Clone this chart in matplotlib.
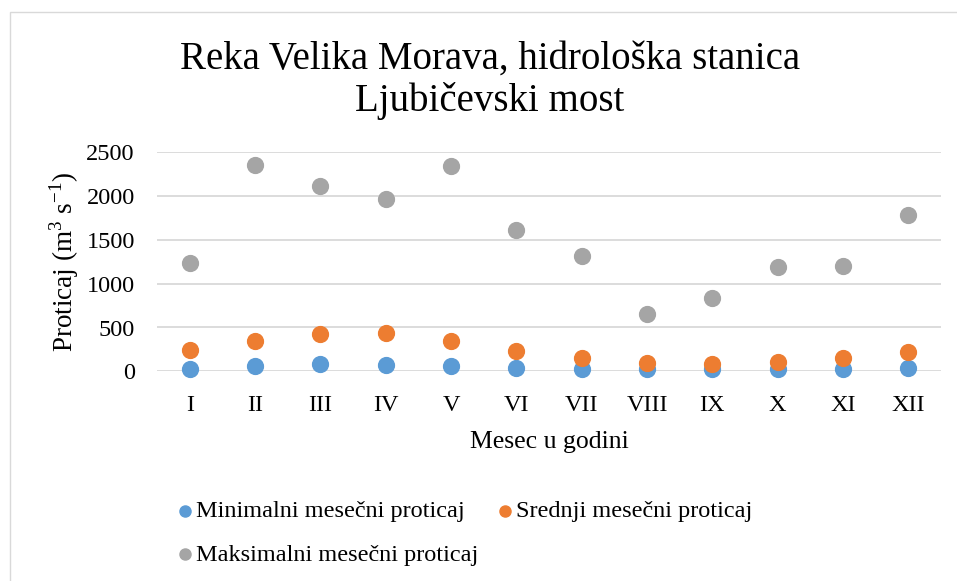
import matplotlib.pyplot as plt
from matplotlib.patches import Rectangle

plt.rcParams['font.family'] = ['Liberation Serif', 'DejaVu Serif']
plt.rcParams['mathtext.fontset'] = 'custom'
plt.rcParams['mathtext.rm'] = 'Liberation Serif'

# months (roman numerals) and monthly discharge, m3/s
months = ['I', 'II', 'III', 'IV', 'V', 'VI', 'VII', 'VIII', 'IX', 'X', 'XI', 'XII']
q_min = [30, 64, 87, 75, 60, 41, 30, 23, 23, 26, 26, 38]
q_mean = [247, 346, 429, 434, 346, 235, 148, 98, 83, 110, 155, 217]
q_max = [1233, 2355, 2115, 1963, 2343, 1613, 1316, 658, 840, 1194, 1205, 1784]

c_min = '#5B9BD5'
c_mean = '#ED7D31'
c_max = '#A5A5A5'

fig = plt.figure(figsize=(9.57, 5.81), dpi=100)
fig.patches.append(Rectangle((10 / 957, -0.1), 1.1, 1 - 12 / 581 + 0.1,
                             transform=fig.transFigure, fill=False,
                             edgecolor='#D9D9D9', linewidth=1))

ax = fig.add_axes([157 / 957, 209.7 / 581, 784 / 957, 219 / 581])
x = range(len(months))
s = 130
h_min = ax.scatter(x, q_min, s=s, color=c_min, zorder=3, clip_on=False,
                   label='Minimalni mesečni proticaj')
h_mean = ax.scatter(x, q_mean, s=s, color=c_mean, zorder=4, clip_on=False,
                    label='Srednji mesečni proticaj')
h_max = ax.scatter(x, q_max, s=s, color=c_max, zorder=5, clip_on=False,
                   label='Maksimalni mesečni proticaj')

ax.set_xlim(-0.5, 11.5)
ax.set_ylim(0, 2500)
ax.set_yticks(range(0, 2501, 500))
ax.set_xticks(list(x))
ax.set_xticklabels(months)
ax.yaxis.grid(True, color='#D9D9D9', linewidth=1.3)
ax.set_axisbelow(True)
for sp in ax.spines.values():
    sp.set_visible(False)
ax.tick_params(length=0, labelsize=17.5, colors='black')
ax.tick_params(axis='y', pad=16)
ax.tick_params(axis='x', pad=17)

ax.set_xlabel('Mesec u godini', fontsize=18.5, labelpad=11)
ax.set_ylabel('Proticaj (m$^{3}$ s$^{-1}$)', fontsize=19.5, labelpad=4)

fig.text(0.512, 1 - 80 / 581, 'Reka Velika Morava, hidrološka stanica\nLjubičevski most',
         ha='center', va='center', fontsize=28, linespacing=1.14)

fig.legend(handles=[h_min, h_max, h_mean], ncol=2, loc='upper left',
           bbox_to_anchor=(153 / 957, 1 - 478 / 581), frameon=False,
           fontsize=17.5, markerscale=0.7, handletextpad=0.05,
           handlelength=0.8, columnspacing=0.7, labelspacing=0.9)

fig.savefig('out.png', dpi=100)
